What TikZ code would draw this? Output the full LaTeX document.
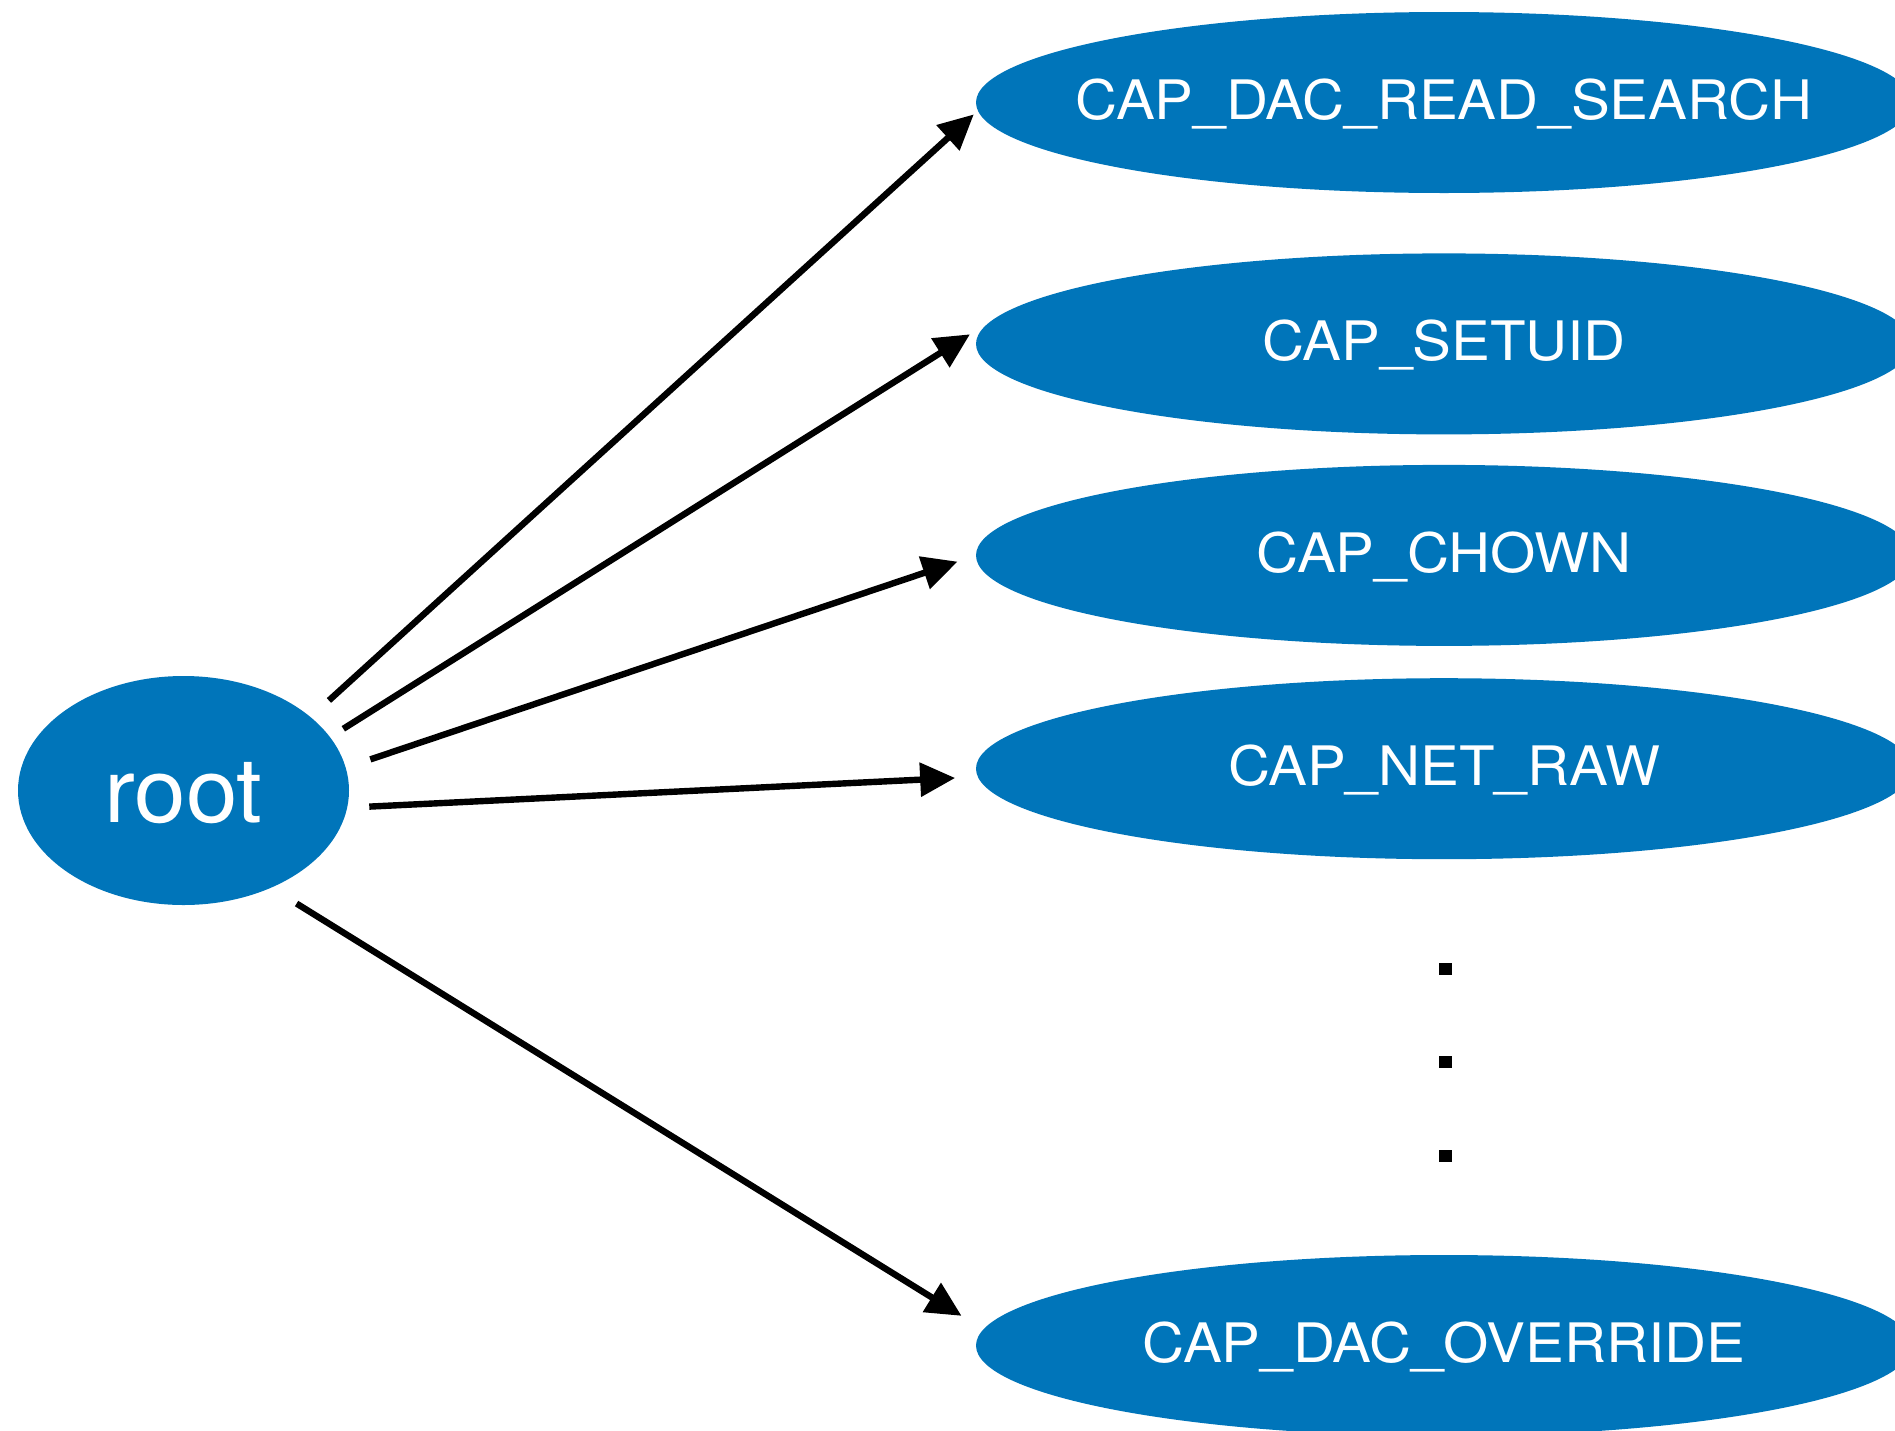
\documentclass[tikz,border=0pt]{standalone}
\usepackage{fontspec}
\setmainfont{TeX Gyre Heros}
\newfontfamily\capfont[FakeStretch=1.07]{TeX Gyre Heros}
\newfontfamily\rootfont[FakeStretch=1.03]{TeX Gyre Heros}
\usetikzlibrary{arrows.meta,shapes.geometric}
\definecolor{capblue}{RGB}{0,117,186}
% label of zero size, baseline set below the node centre
\newcommand{\lbl}[2]{\makebox[0pt][c]{\raisebox{-#1}[0pt][0pt]{#2}}}

\begin{document}
\begin{tikzpicture}[x=0.5pt,y=-0.5pt,
  rootnode/.style={ellipse, fill=capblue, text=white, inner sep=0pt, outer sep=0pt,
    minimum width=165.5pt, minimum height=114.5pt,
    font=\rootfont\fontsize{45}{50}\selectfont},
  capnode/.style={ellipse, fill=capblue, text=white, inner sep=0pt, outer sep=0pt,
    minimum width=468pt, minimum height=90.5pt,
    font=\capfont\fontsize{27.2}{32}\selectfont},
  dotmark/.style={rectangle, fill=black, inner sep=0pt, outer sep=0pt,
    minimum width=6.5pt, minimum height=6pt},
  arr/.style={line width=3.2pt, -{Triangle[length=17.5pt,width=16.5pt]}}]

\useasboundingbox (0,0) rectangle (1895,1430);
\fill[white] (0,0) rectangle (1895,1430);
\clip (0,0) rectangle (1895,1430);

% source node
\node[rootnode] (root) at (183.5,790.5) {\lbl{16pt}{root}};

% capability nodes
\node[capnode] (c1) at (1444,102.5)  {\lbl{8.3pt}{CAP\_DAC\_READ\_SEARCH}};
\node[capnode] (c2) at (1444,343.9)  {\lbl{8.3pt}{CAP\_SETUID}};
\node[capnode] (c3) at (1444,555.4)  {\lbl{8.3pt}{CAP\_CHOWN}};
\node[capnode] (c4) at (1444,768.7)  {\lbl{8.3pt}{CAP\_NET\_RAW}};
\node[capnode] (c5) at (1444,1345.5) {\lbl{8.3pt}{CAP\_DAC\_OVERRIDE}};

% vertical ellipsis
\node[dotmark] (d1) at (1445,968.5) {};
\node[dotmark] (d2) at (1445,1062) {};
\node[dotmark] (d3) at (1445,1156) {};

% connectors
\draw[arr, shorten <=12.4pt, shorten >=2.8pt]  (root.30.33)  -- (c1.181.49);
\draw[arr, shorten <=7.9pt,  shorten >=13.2pt] (root.20.96)  -- (c2.177.99);
\draw[arr, shorten <=13pt,   shorten >=9.75pt] (root.8.43)   -- (c3.180.14);
\draw[arr, shorten <=11.1pt, shorten >=11.4pt] (root.354)    -- (c4.181.36);
\draw[arr, shorten <=15.05pt,shorten >=12.9pt] (root.312.37) -- (c5.178.33);
\end{tikzpicture}
\end{document}
